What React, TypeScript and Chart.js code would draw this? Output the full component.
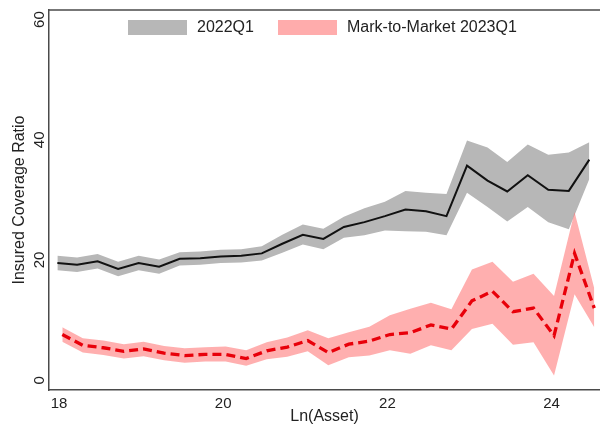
import React, { useEffect, useRef } from "react";
import { Chart, registerables } from "chart.js";

Chart.register(...registerables);

// ---------- data ----------
const xTicks = [18, 20, 22, 24];
const yTicks = [0, 20, 40, 60];

const legendLabels = ["2022Q1", "Mark-to-Market 2023Q1"];

// 2022Q1 (black solid line + gray band)
const xs2022 = [
  17.98, 18.22, 18.47, 18.72, 18.97, 19.22, 19.47, 19.72, 19.97, 20.22, 20.47, 20.72, 20.97, 21.22,
  21.47, 21.72, 21.97, 22.22, 22.47, 22.72, 22.97, 23.22, 23.46, 23.71, 23.96, 24.21, 24.46,
];
const mean2022 = [
  19.5, 19.2, 19.8, 18.5, 19.5, 18.9, 20.2, 20.3, 20.6, 20.7, 21.1, 22.7, 24.2, 23.5, 25.5, 26.3,
  27.3, 28.4, 28.1, 27.3, 35.7, 33.2, 31.4, 34.1, 31.7, 31.5, 36.7,
];
const upper2022 = [
  20.7, 20.4, 21.0, 19.7, 20.7, 20.1, 21.3, 21.4, 21.7, 21.8, 22.3, 24.2, 25.9, 25.2, 27.2, 28.6,
  29.7, 31.5, 31.2, 31.0, 39.9, 38.7, 36.3, 39.2, 37.5, 37.9, 39.6,
];
const lower2022 = [
  18.3, 18.0, 18.6, 17.3, 18.3, 17.7, 19.1, 19.2, 19.5, 19.6, 19.9, 21.2, 22.6, 21.8, 23.7, 24.1,
  24.9, 24.8, 24.7, 24.1, 31.2, 28.8, 26.4, 28.8, 26.3, 25.1, 33.5,
];

// Mark-to-Market 2023Q1 (red dashed line + pink band)
const xs2023 = [
  18.04, 18.29, 18.54, 18.79, 19.03, 19.28, 19.53, 19.78, 20.03, 20.28, 20.53, 20.78, 21.03, 21.28,
  21.53, 21.78, 22.03, 22.28, 22.53, 22.78, 23.03, 23.28, 23.53, 23.78, 24.03, 24.28, 24.52,
];
const mean2023 = [
  7.6, 5.8, 5.4, 4.8, 5.2, 4.5, 4.1, 4.3, 4.3, 3.6, 4.9, 5.5, 6.6, 4.6, 6.0, 6.5, 7.6, 7.9, 9.2,
  8.5, 13.2, 14.8, 11.4, 12.0, 7.4, 21.1, 12.0,
];
const upper2023 = [
  8.8, 7.0, 6.6, 6.0, 6.4, 5.7, 5.3, 5.5, 5.6, 5.0, 6.3, 7.1, 8.3, 7.0, 8.0, 8.9, 10.8, 11.9, 12.9,
  11.8, 18.4, 19.7, 16.4, 17.7, 14.0, 28.0, 15.3,
];
const lower2023 = [
  6.4, 4.6, 4.2, 3.6, 4.0, 3.3, 2.9, 3.1, 3.1, 2.4, 3.5, 3.9, 4.8, 2.5, 3.8, 4.1, 5.0, 4.4, 5.8,
  5.0, 8.5, 9.4, 5.9, 6.3, 0.8, 14.3, 8.8,
];

// ---------- styles ----------
const FONT = "'Liberation Sans', Arial, Helvetica, sans-serif";
const TXT = "#222222";
const AX = "#4a4a4a";
const GRAY = "rgb(183,183,183)";
const PINK = "rgba(255,110,110,0.55)";
const PINK_LEGEND = "rgb(255,172,172)";
const BLACK = "#111111";
const RED = "rgb(232,0,10)";

const pts = (xs: number[], ys: number[]) => xs.map((x, i) => ({ x, y: ys[i] }));

const framePlugin = {
  id: "frameAndLegend",
  afterDraw(chart: any) {
    const { ctx, chartArea } = chart;
    ctx.save();
    // top frame line
    ctx.strokeStyle = AX;
    ctx.lineWidth = 1.5;
    ctx.beginPath();
    ctx.moveTo(chartArea.left, chartArea.top);
    ctx.lineTo(chartArea.right, chartArea.top);
    ctx.stroke();

    // legend
    ctx.font = `16px ${FONT}`;
    ctx.textBaseline = "middle";
    ctx.textAlign = "left";
    ctx.fillStyle = GRAY;
    ctx.fillRect(128, 20, 59, 15);
    ctx.fillStyle = TXT;
    ctx.fillText(legendLabels[0], 197, 28);
    ctx.fillStyle = PINK_LEGEND;
    ctx.fillRect(278, 20, 59, 15);
    ctx.fillStyle = TXT;
    ctx.fillText(legendLabels[1], 347, 28);
    ctx.restore();
  },
};

export default function App() {
  const ref = useRef<HTMLCanvasElement | null>(null);

  useEffect(() => {
    document.body.style.margin = "0";
    const canvas = ref.current;
    if (!canvas) return;
    const chart = new Chart(canvas, {
      type: "line",
      data: {
        datasets: [
          {
            label: "lo2022",
            data: pts(xs2022, lower2022),
            borderColor: "transparent",
            borderWidth: 0,
            pointRadius: 0,
            fill: false,
            order: 4,
          },
          {
            label: "hi2022",
            data: pts(xs2022, upper2022),
            borderColor: "transparent",
            borderWidth: 0,
            pointRadius: 0,
            backgroundColor: GRAY,
            fill: "-1",
            order: 4,
          },
          {
            label: "lo2023",
            data: pts(xs2023, lower2023),
            borderColor: "transparent",
            borderWidth: 0,
            pointRadius: 0,
            fill: false,
            order: 3,
          },
          {
            label: "hi2023",
            data: pts(xs2023, upper2023),
            borderColor: "transparent",
            borderWidth: 0,
            pointRadius: 0,
            backgroundColor: PINK,
            fill: "-1",
            order: 3,
          },
          {
            label: legendLabels[0],
            data: pts(xs2022, mean2022),
            borderColor: BLACK,
            borderWidth: 2,
            pointRadius: 0,
            fill: false,
            order: 2,
          },
          {
            label: legendLabels[1],
            data: pts(xs2023, mean2023),
            borderColor: RED,
            borderWidth: 3.3,
            borderDash: [9, 5],
            pointRadius: 0,
            fill: false,
            order: 1,
          },
        ],
      },
      options: {
        responsive: false,
        animation: false,
        events: [],
        layout: { padding: { top: 7, left: 0, right: 0, bottom: 0 } },
        plugins: {
          legend: { display: false },
          tooltip: { enabled: false },
        },
        scales: {
          x: {
            type: "linear",
            min: 17.878,
            max: 24.59,
            grid: { display: false, drawTicks: false },
            border: { display: true, color: AX, width: 1.5 },
            ticks: {
              font: { family: FONT, size: 15 },
              color: TXT,
              padding: 5,
              maxRotation: 0,
              autoSkip: false,
            },
            afterBuildTicks: (s: any) => {
              s.ticks = xTicks.map((v) => ({ value: v }));
            },
            afterFit: (s: any) => {
              s.height = 40;
            },
            title: {
              display: true,
              text: "Ln(Asset)",
              font: { family: FONT, size: 16 },
              color: TXT,
              padding: { top: 0, bottom: 4 },
            },
          },
          y: {
            type: "linear",
            min: -1.63,
            max: 61.6,
            grid: { display: false, drawTicks: false },
            border: { display: true, color: AX, width: 1.5 },
            ticks: {
              font: { family: FONT, size: 15 },
              color: TXT,
              padding: 1,
              minRotation: 90,
              maxRotation: 90,
              crossAlign: "center",
              autoSkip: false,
            },
            afterBuildTicks: (s: any) => {
              s.ticks = yTicks.map((v) => ({ value: v }));
            },
            afterFit: (s: any) => {
              s.width = 49;
            },
            title: {
              display: true,
              text: "Insured Coverage Ratio",
              font: { family: FONT, size: 16 },
              color: TXT,
              padding: { top: 10, bottom: 0 },
            },
          },
        },
      },
      plugins: [framePlugin],
    } as any);
    return () => chart.destroy();
  }, []);

  return (
    <div style={{ width: 600, height: 430, background: "#fff" }}>
      <canvas ref={ref} width={600} height={430} style={{ display: "block" }} />
    </div>
  );
}
